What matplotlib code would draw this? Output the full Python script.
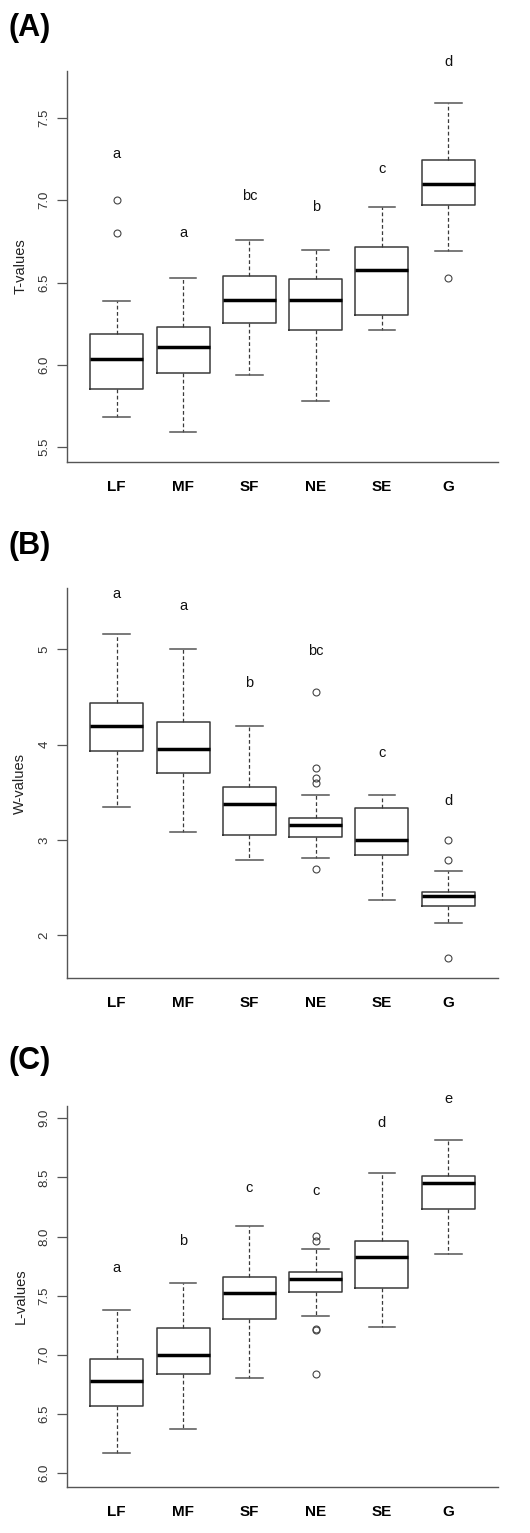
import numpy as np
import matplotlib
matplotlib.use("Agg")
import matplotlib.pyplot as plt

plt.rcParams['font.family'] = ['Liberation Sans', 'DejaVu Sans']

# Groups on the x axis
groups = ['LF', 'MF', 'SF', 'NE', 'SE', 'G']

# Panel A: T-values (whisker low, Q1, median, Q3, whisker high)
t_low = [5.68, 5.59, 5.94, 5.78, 6.21, 6.69]
t_q1 = [5.855, 5.948, 6.252, 6.213, 6.302, 6.971]
t_med = [6.035, 6.106, 6.392, 6.392, 6.578, 7.101]
t_q3 = [6.187, 6.231, 6.537, 6.521, 6.718, 7.243]
t_high = [6.386, 6.527, 6.760, 6.696, 6.957, 7.589]
t_out = [[7.0, 6.80], [], [], [], [], [6.525]]
t_letters = ['a', 'a', 'bc', 'b', 'c', 'd']
t_letter_y = [7.283, 6.80, 7.028, 6.959, 7.19, 7.842]

# Panel B: W-values
w_low = [3.346, 3.084, 2.794, 2.815, 2.367, 2.129]
w_q1 = [3.937, 3.699, 3.049, 3.035, 2.839, 2.308]
w_med = [4.199, 3.955, 3.381, 3.161, 3.0, 2.416]
w_q3 = [4.437, 4.238, 3.559, 3.227, 3.332, 2.458]
w_high = [5.164, 5.0, 4.199, 3.469, 3.469, 2.671]
w_out = [[], [], [], [4.549, 3.752, 3.650, 3.598, 2.696], [], [3.0, 2.79, 1.762]]
w_letters = ['a', 'a', 'b', 'bc', 'c', 'd']
w_letter_y = [5.577, 5.451, 4.647, 4.986, 3.913, 3.406]

# Panel C: L-values
l_low = [6.169, 6.375, 6.80, 7.324, 7.234, 7.856]
l_q1 = [6.566, 6.837, 7.299, 7.535, 7.566, 8.234]
l_med = [6.780, 7.0, 7.524, 7.645, 7.828, 8.454]
l_q3 = [6.966, 7.225, 7.662, 7.701, 7.966, 8.513]
l_high = [7.377, 7.608, 8.085, 7.896, 8.541, 8.820]
l_out = [[], [], [], [8.006, 7.966, 7.222, 7.212, 6.839], [], []]
l_letters = ['a', 'b', 'c', 'c', 'd', 'e']
l_letter_y = [7.732, 7.961, 8.414, 8.386, 8.961, 9.163]

W, H = 530, 1533
fig = plt.figure(figsize=(W / 100, H / 100), dpi=100)
fig.patch.set_facecolor('white')


def panel(top, bottom, low, q1, med, q3, high, out, letters, letter_y,
          ylim, yticks, ylabels, ylabel, tag, tag_y):
    ax = fig.add_axes([67 / W, 1 - bottom / H, 431 / W, (bottom - top) / H])
    stats = []
    for i in range(len(groups)):
        stats.append(dict(whislo=low[i], q1=q1[i], med=med[i], q3=q3[i],
                          whishi=high[i], fliers=out[i], label=groups[i]))
    ax.bxp(stats, positions=np.arange(1, len(groups) + 1), widths=0.8,
           patch_artist=False,
           boxprops=dict(color='#3a3a3a', linewidth=1.1),
           medianprops=dict(color='black', linewidth=2.5),
           whiskerprops=dict(color='#3a3a3a', linewidth=0.9, linestyle=(0, (3, 2))),
           capprops=dict(color='#555555', linewidth=1.1),
           capwidths=0.4,
           flierprops=dict(marker='o', markerfacecolor='none',
                           markeredgecolor='#444444', markersize=5,
                           markeredgewidth=0.8))
    for i, (s, y) in enumerate(zip(letters, letter_y)):
        ax.text(i + 1, y, s, ha='center', va='center', fontsize=10.5,
                color='#111111', clip_on=False)
    ax.set_xlim(0.25, 6.75)
    ax.set_ylim(*ylim)
    ax.set_yticks(yticks)
    ax.set_yticklabels(ylabels, rotation=90, va='center', fontsize=9.5,
                       color='#333333')
    ax.set_xticks(np.arange(1, len(groups) + 1))
    ax.set_xticklabels(groups, fontsize=11, fontweight='bold')
    ax.tick_params(axis='x', length=0, pad=13)
    ax.tick_params(axis='y', length=7, width=0.9, color='#555555', pad=5)
    for side in ['top', 'right']:
        ax.spines[side].set_visible(False)
    for side in ['left', 'bottom']:
        ax.spines[side].set_color('#555555')
        ax.spines[side].set_linewidth(1.0)
    ax.set_ylabel(ylabel, fontsize=10.5, color='#222222')
    ax.yaxis.set_label_coords(-0.092, 0.5)
    fig.text(8 / W, 1 - tag_y / H, tag, fontsize=22, fontweight='bold',
             ha='left', va='center')
    return ax


panel(71, 462, t_low, t_q1, t_med, t_q3, t_high, t_out, t_letters, t_letter_y,
      (5.409, 7.786), [5.5, 6.0, 6.5, 7.0, 7.5],
      ['5.5', '6.0', '6.5', '7.0', '7.5'], 'T-values', '(A)', 28)

panel(588, 978, w_low, w_q1, w_med, w_q3, w_high, w_out, w_letters, w_letter_y,
      (1.552, 5.643), [2, 3, 4, 5], ['2', '3', '4', '5'], 'W-values', '(B)', 546)

panel(1106, 1487, l_low, l_q1, l_med, l_q3, l_high, l_out, l_letters, l_letter_y,
      (5.882, 9.104), [6.0, 6.5, 7.0, 7.5, 8.0, 8.5, 9.0],
      ['6.0', '6.5', '7.0', '7.5', '8.0', '8.5', '9.0'], 'L-values', '(C)', 1061)

fig.savefig('out.png', dpi=100, facecolor='white')
